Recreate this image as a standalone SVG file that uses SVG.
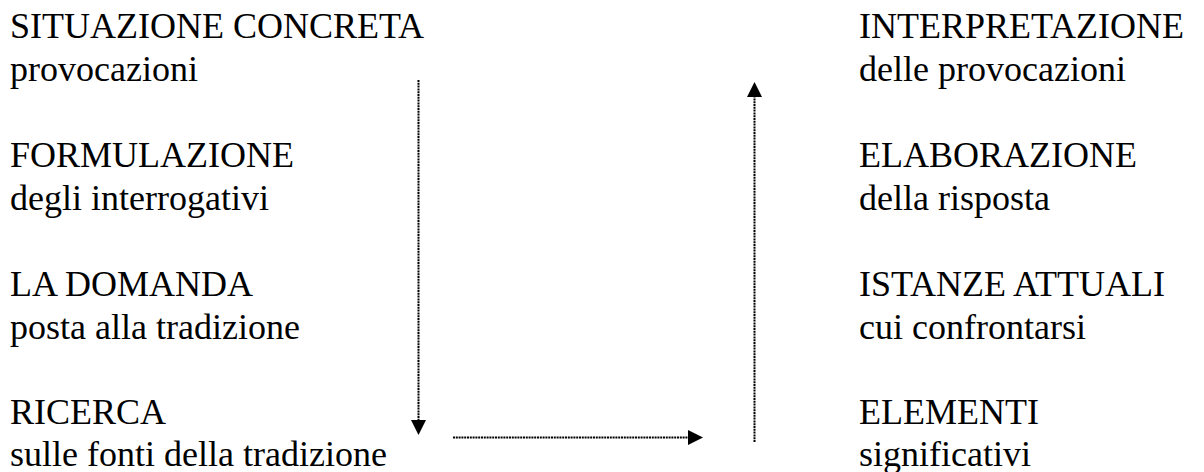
<svg xmlns="http://www.w3.org/2000/svg" width="1204" height="472" viewBox="0 0 1204 472">
<style>
text { font-family: "Liberation Serif", "Times New Roman", serif; font-size: 36px; fill: #000; }
.conn { stroke: #000; stroke-width: 2; stroke-dasharray: 2 0.8; fill: none; }
.head { fill: #000; stroke: none; }
</style>
<rect width="1204" height="472" fill="#fff"/>
<g id="situazione"><text x="10" y="38">SITUAZIONE CONCRETA</text><text x="10" y="81">provocazioni</text></g>
<g id="formulazione"><text x="10" y="167">FORMULAZIONE</text><text x="10" y="210">degli interrogativi</text></g>
<g id="domanda"><text x="10" y="296">LA DOMANDA</text><text x="10" y="339">posta alla tradizione</text></g>
<g id="ricerca"><text x="10" y="424">RICERCA</text><text x="10" y="466">sulle fonti della tradizione</text></g>
<g id="interpretazione"><text x="859" y="38">INTERPRETAZIONE</text><text x="859" y="81">delle provocazioni</text></g>
<g id="elaborazione"><text x="859" y="167">ELABORAZIONE</text><text x="859" y="210">della risposta</text></g>
<g id="istanze"><text x="859" y="296">ISTANZE ATTUALI</text><text x="859" y="339">cui confrontarsi</text></g>
<g id="elementi"><text x="859" y="424">ELEMENTI</text><text x="859" y="466">significativi</text></g>
<g id="connectors">
<line class="conn" x1="418.5" y1="80" x2="418.5" y2="421"/>
<polygon class="head" points="411,420 426,420 418.5,435"/>
<line class="conn" x1="453" y1="437.5" x2="689" y2="437.5"/>
<polygon class="head" points="688,430 688,445 703,437.5"/>
<line class="conn" x1="754.5" y1="442" x2="754.5" y2="96"/>
<polygon class="head" points="747,97 762,97 754.5,82"/>
</g>
</svg>
